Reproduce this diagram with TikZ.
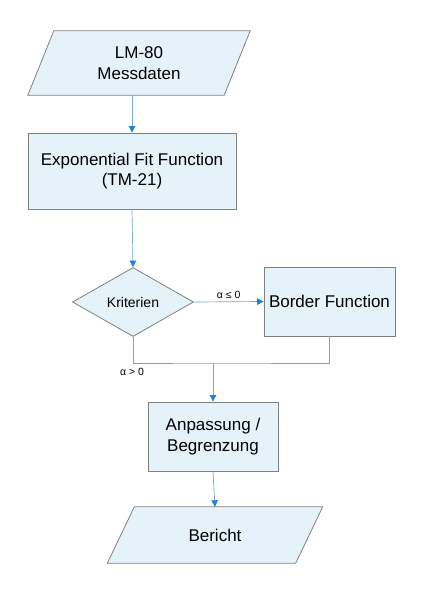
\documentclass[tikz,border=0pt]{standalone}
\usepackage{fontspec}
\setmainfont{Liberation Sans}
\usetikzlibrary{shapes.geometric,arrows.meta,backgrounds}

\definecolor{boxfill}{RGB}{230,242,250}
\definecolor{boxline}{RGB}{128,128,128}
\definecolor{linie}{RGB}{120,165,215}
\definecolor{spitze}{RGB}{30,128,228}

\begin{document}
\begin{tikzpicture}[x=1pt,y=-1pt,
  kasten/.style={draw=boxline,fill=boxfill,line width=0.8pt,inner sep=0pt,
    align=center,font=\fontsize{17}{20.5}\selectfont},
  daten/.style={inner sep=0pt,align=center,font=\fontsize{17}{20.5}\selectfont},
  schraeg/.style={draw=boxline,fill=boxfill,line width=0.8pt},
  raute/.style={kasten,diamond,font=\fontsize{14}{16}\selectfont},
  linie/.style={draw=linie,line width=0.7pt},
  pfeil/.style={linie,-{Triangle[length=6.5pt,width=6.5pt,color=spitze]}},
  bed/.style={font=\fontsize{10.5}{12}\selectfont,inner sep=1pt}
]

\useasboundingbox (0,0) rectangle (427,600);

% Eingabe
\node[daten,minimum width=196,minimum height=64] (mess) at (139,63)
{LM-80\\Messdaten};

\node[kasten,minimum width=208,minimum height=76] (fit) at (132,171)
{Exponential Fit Function\\(TM-21)};

% Entscheidung
\node[raute,minimum width=121,minimum height=69] (krit) at (133,302)
{Kriterien};

\node[kasten,minimum width=131,minimum height=69] (border) at (329.5,301.5)
{Border Function};

\coordinate (mitte) at (213,363);

% Ausgabe
\node[kasten,minimum width=130,minimum height=69] (anp) at (213,436.5)
{Anpassung /\\Begrenzung};

\node[daten,minimum width=188,minimum height=56] (ber) at (215,535)
{Bericht};

% Parallelogramme hinter dem Text
\begin{pgfonlayer}{background}
\foreach \n/\s in {mess/13,ber/13.5}
{
\path[schraeg] ([xshift=\s]\n.north west) -- ([xshift=\s]\n.north east)
  -- ([xshift=-\s]\n.south east) -- ([xshift=-\s]\n.south west) -- cycle;
}
\end{pgfonlayer}

% Verbindungen
\draw[pfeil] (fit.north |- mess.south) -- (fit.north);
\draw[pfeil] (fit.south) -- (krit.north);
\draw[pfeil] (krit.east) -- node[bed,above=2pt] {α ≤ 0} (border.west);
\draw[linie] (krit.south) |- (mitte) -| (border.south);
\node[bed,anchor=north] (agr) at (132,367) {α > 0};
\draw[pfeil] (mitte) -- (anp.north);
\draw[pfeil] (anp.south) -- (ber.north);

\end{tikzpicture}
\end{document}
